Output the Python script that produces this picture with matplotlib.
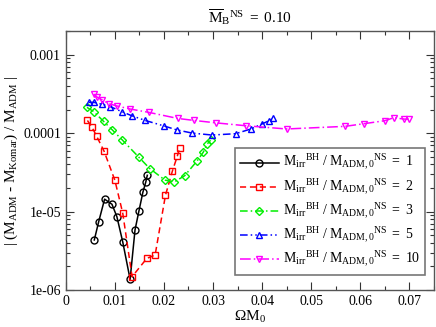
import matplotlib
matplotlib.use("Agg")
import matplotlib.pyplot as plt
from matplotlib.ticker import FixedLocator, MultipleLocator, LogLocator, NullFormatter

plt.rcParams['font.family'] = ['Liberation Serif', 'DejaVu Serif']
plt.rcParams['mathtext.fontset'] = 'custom'
plt.rcParams['mathtext.rm'] = 'Liberation Serif'
plt.rcParams['mathtext.it'] = 'Liberation Serif:italic'

# Data
x1 = [0.0058, 0.0067, 0.0079, 0.0094, 0.0104, 0.0116, 0.0131, 0.0141, 0.0149, 0.0157, 0.0163, 0.0166]
y1 = [4.35e-6, 7.45e-6, 1.44e-5, 1.24e-5, 8.63e-6, 4.1e-6, 1.37e-6, 5.84e-6, 1.02e-5, 1.76e-5, 2.39e-5, 2.9e-5]

x2 = [0.0044, 0.0053, 0.0063, 0.0078, 0.0100, 0.0116, 0.0135, 0.0165, 0.0182, 0.0203, 0.0217, 0.0227, 0.0232]
y2 = [1.45e-4, 1.20e-4, 9.08e-5, 5.87e-5, 2.50e-5, 9.54e-6, 1.48e-6, 2.53e-6, 2.80e-6, 1.61e-5, 3.26e-5, 5.04e-5, 6.45e-5]

x3 = [0.0043, 0.0057, 0.0077, 0.0094, 0.0115, 0.0149, 0.0171, 0.0202, 0.0221, 0.0242, 0.0267, 0.0280, 0.0288, 0.0295]
y3 = [2.13e-4, 1.88e-4, 1.41e-4, 1.11e-4, 8.19e-5, 4.92e-5, 3.54e-5, 2.52e-5, 2.39e-5, 2.86e-5, 4.38e-5, 5.70e-5, 7.26e-5, 8.11e-5]

x5 = [0.0047, 0.0057, 0.0073, 0.0091, 0.0114, 0.0134, 0.0162, 0.0201, 0.0226, 0.0258, 0.0298, 0.0346, 0.0377, 0.0399, 0.0414, 0.0423]
y5 = [2.47e-4, 2.47e-4, 2.34e-4, 2.17e-4, 1.88e-4, 1.67e-4, 1.45e-4, 1.23e-4, 1.10e-4, 1.00e-4, 9.46e-5, 9.83e-5, 1.13e-4, 1.30e-4, 1.44e-4, 1.55e-4]

x10 = [0.0057, 0.0064, 0.0074, 0.0088, 0.0104, 0.0131, 0.0169, 0.0228, 0.0262, 0.0307, 0.0368, 0.0450, 0.0569, 0.0608, 0.0650, 0.0668, 0.0690, 0.0699]
y10 = [3.14e-4, 2.87e-4, 2.65e-4, 2.37e-4, 2.22e-4, 2.03e-4, 1.84e-4, 1.54e-4, 1.45e-4, 1.35e-4, 1.24e-4, 1.13e-4, 1.22e-4, 1.32e-4, 1.44e-4, 1.57e-4, 1.51e-4, 1.51e-4]

ratios = ['1', '2', '3', '5', '10']
xticks = [0, 0.01, 0.02, 0.03, 0.04, 0.05, 0.06, 0.07]
xticklabels = ['0', '0.01', '0.02', '0.03', '0.04', '0.05', '0.06', '0.07']
yticks = [1e-6, 1e-5, 1e-4, 1e-3]
yticklabels = ['1e-06', '1e-05', '0.0001', '0.001']

fig = plt.figure(figsize=(4.36, 3.27), dpi=100)
ax = fig.add_axes([0.151, 0.113, 0.844, 0.792])

ms = 5
series = [
    (x1, y1, 'black', 'o', '-'),
    (x2, y2, 'red', 's', (0, (4, 2.5))),
    (x3, y3, '#00ee00', 'D', (0, (5, 2, 1, 2))),
    (x5, y5, 'blue', '^', (0, (5, 2, 1, 2, 1, 2))),
    (x10, y10, 'magenta', 'v', (0, (7, 2, 1, 2))),
]
for (xs, ys, c, m, ls), r in zip(series, ratios):
    msz = ms - 1 if m == 'D' else ms
    ax.plot(xs, ys, color=c, marker=m, linestyle=ls, markeredgecolor=c,
            label=r'$\mathrm{M}_{\mathrm{irr}}{}^{\mathrm{BH}}\ /\ \mathrm{M}_{\mathrm{ADM,0}}{}^{\mathrm{NS}}\ =\ %s$' % r,
            markerfacecolor='none', markersize=msz, markeredgewidth=1.0, linewidth=1.1)

ax.set_yscale('log')
ax.set_xlim(0, 0.075)
ax.set_ylim(1e-6, 2e-3)
ax.xaxis.set_major_locator(FixedLocator(xticks))
ax.set_xticklabels(xticklabels)
ax.xaxis.set_minor_locator(MultipleLocator(0.005))
ax.yaxis.set_major_locator(FixedLocator(yticks))
ax.set_yticklabels(yticklabels)
ax.yaxis.set_minor_locator(LogLocator(base=10, subs=range(2, 10), numticks=20))
ax.yaxis.set_minor_formatter(NullFormatter())

ax.tick_params(which='both', direction='in', top=True, right=True, labelsize=10, colors='#333333', labelcolor='black')
ax.tick_params(which='major', length=6, width=0.8)
ax.tick_params(which='minor', length=3, width=0.8)
for s in ax.spines.values():
    s.set_color('#555555')
    s.set_linewidth(1.0)

ax.set_xlabel(r'$\Omega\mathrm{M}_0$', fontsize=11, labelpad=1)
ax.set_ylabel(r'$|\ (\mathrm{M}_{\mathrm{ADM}}\ \text{-}\ \mathrm{M}_{\mathrm{Komar}})\ /\ \mathrm{M}_{\mathrm{ADM}}\ |$', fontsize=11, labelpad=2)
ax.set_title(r'$\overline{\mathrm{M}}_{\mathrm{B}}{}^{\mathrm{NS}}\ =\ 0.10$', fontsize=11, pad=6)

leg = ax.legend(loc='lower right', bbox_to_anchor=(0.976, 0.058), borderaxespad=0,
                fontsize=10, frameon=True, fancybox=False, handlelength=2.8,
                labelspacing=0.3, handletextpad=0.3, borderpad=0.35)
leg.get_frame().set_edgecolor('#777777')
leg.get_frame().set_linewidth(1.2)
leg.get_frame().set_alpha(1)

fig.savefig('out.png', dpi=100)
